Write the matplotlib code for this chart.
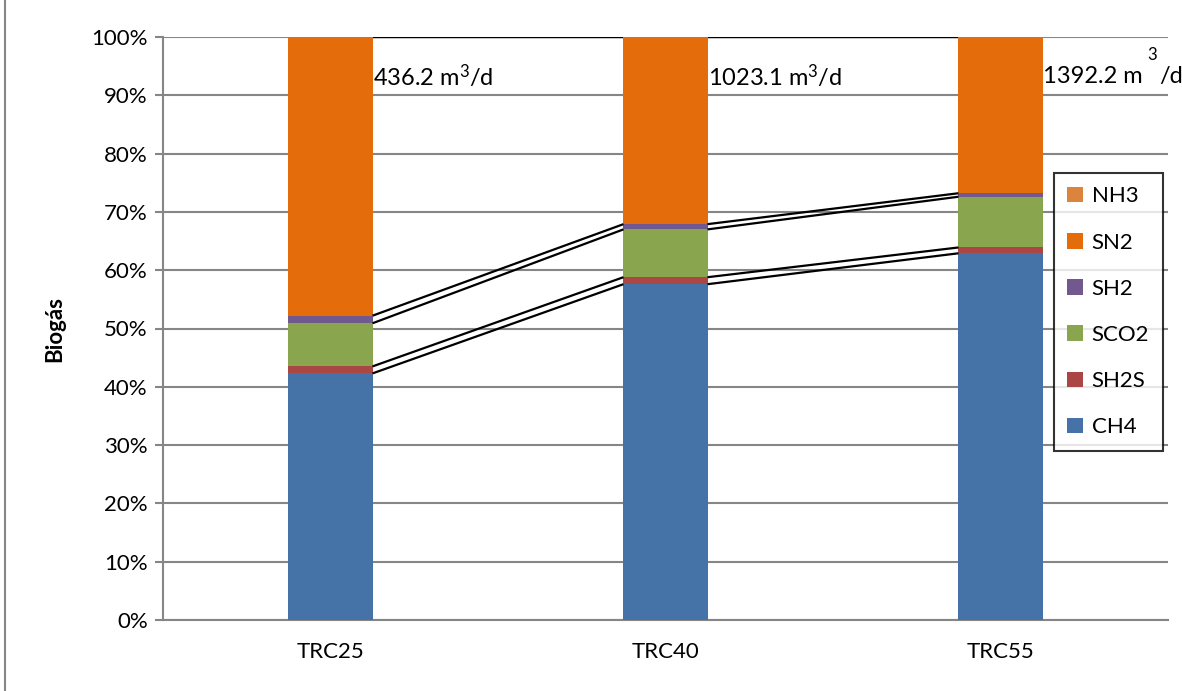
import matplotlib
matplotlib.use("Agg")
import matplotlib.pyplot as plt
from matplotlib.lines import Line2D
from matplotlib.patches import Patch
import numpy as np

plt.rcParams['font.family'] = ['Lato', 'DejaVu Sans']
plt.rcParams['mathtext.fontset'] = 'custom'
plt.rcParams['mathtext.rm'] = 'Lato'
plt.rcParams['mathtext.it'] = 'Lato'
plt.rcParams['mathtext.bf'] = 'Lato:bold'

# Biogas composition (%) per reactor
categories = ["TRC25", "TRC40", "TRC55"]
series_names = ["CH4", "SH2S", "SCO2", "SH2", "SN2", "NH3"]
ch4 = [42.3, 57.6, 62.9]
sh2s = [1.2, 1.2, 1.0]
sco2 = [7.4, 8.2, 8.7]
sh2 = [1.3, 0.9, 0.6]
sn2 = [47.8, 32.1, 26.8]
nh3 = [0.0, 0.0, 0.0]
flow_labels = ["436.2", "1023.1", "1392.2"]

colors = ["#4572A7", "#AA4643", "#89A54E", "#71588F", "#E46C0A", "#DB843D"]
grid_gray = "#868686"

data = np.array([ch4, sh2s, sco2, sh2, sn2, nh3], dtype=float)
totals = data.sum(axis=0)
pct = data / totals * 100.0

fig = plt.figure(figsize=(11.82, 6.91), dpi=100)
ax = fig.add_axes([163 / 1182, 71 / 691, 1005 / 1182, 583 / 691])

x = np.arange(len(categories))
width = 0.251
bottom = np.zeros(len(categories))
tops = []
for name, vals, col in zip(series_names, pct, colors):
    ax.bar(x, vals, width, bottom=bottom, color=col, label=name, zorder=3,
           linewidth=0)
    bottom = bottom + vals
    tops.append(bottom.copy())

# Series lines joining the top of each segment between neighbouring bars
for top in tops:
    for i in range(len(categories) - 1):
        ax.plot([x[i] + width / 2, x[i + 1] - width / 2], [top[i], top[i + 1]],
                color="black", lw=1.6, zorder=4, solid_capstyle="butt")

ax.set_xlim(-0.5, len(categories) - 0.5)
ax.set_ylim(0, 100)
ax.set_yticks(np.arange(0, 101, 10))
ax.set_yticklabels([f"{v}%" for v in range(0, 101, 10)], fontsize=16)
ax.set_xticks(x)
ax.set_xticklabels(categories, fontsize=16)
ax.yaxis.grid(True, color=grid_gray, lw=1.5, zorder=0)
ax.set_axisbelow(True)
for s in ["top", "right"]:
    ax.spines[s].set_visible(False)
for s in ["left", "bottom"]:
    ax.spines[s].set_color(grid_gray)
    ax.spines[s].set_linewidth(1.5)
ax.tick_params(axis="y", length=6, width=1.5, color=grid_gray, pad=5)
ax.tick_params(axis="x", length=0, pad=16)

ax.set_ylabel("Biogás", fontsize=16, fontweight="bold")
ax.yaxis.set_label_coords(-0.0975, 0.5)

# Daily biogas flow next to each bar
label_y = 93.3
for i, lab in enumerate(flow_labels[:2]):
    ax.text(x[i] + width / 2, label_y, f"{lab} m$^{{3}}$/d", fontsize=17,
            ha="left", va="center", zorder=5)
t_main = ax.text(x[2] + width / 2, label_y, f"{flow_labels[2]} m",
                 fontsize=17, ha="left", va="center", zorder=5)
fig.canvas.draw()
bb = t_main.get_window_extent()
to_pt = 72.0 / fig.dpi
ax.annotate("3", xy=(x[2] + width / 2, label_y), xytext=((bb.width + 5) * to_pt, 15),
            textcoords="offset points", fontsize=12, ha="left", va="center", zorder=5)
ax.annotate("/d", xy=(x[2] + width / 2, label_y), xytext=((bb.width + 17) * to_pt, 0),
            textcoords="offset points", fontsize=17, ha="left", va="center", zorder=5)

# Legend in reverse stacking order
handles = [Patch(facecolor=c, edgecolor="none") for c in colors][::-1]
leg = ax.legend(handles, series_names[::-1], loc="upper left",
                bbox_to_anchor=((1054 - 163) / 1005, (620 - 173) / 583),
                fontsize=16, frameon=True, fancybox=False, handlelength=0.7,
                handleheight=0.7, handletextpad=0.4, labelspacing=1.18,
                borderpad=0.6, borderaxespad=0)
leg.get_frame().set_edgecolor("black")
leg.get_frame().set_linewidth(1.5)
leg.set_zorder(6)

# Chart area border on the left
fig.add_artist(Line2D([5 / 1182, 5 / 1182], [0, 1], color=grid_gray, lw=1.5,
                      transform=fig.transFigure))

fig.savefig("out.png", dpi=100)
